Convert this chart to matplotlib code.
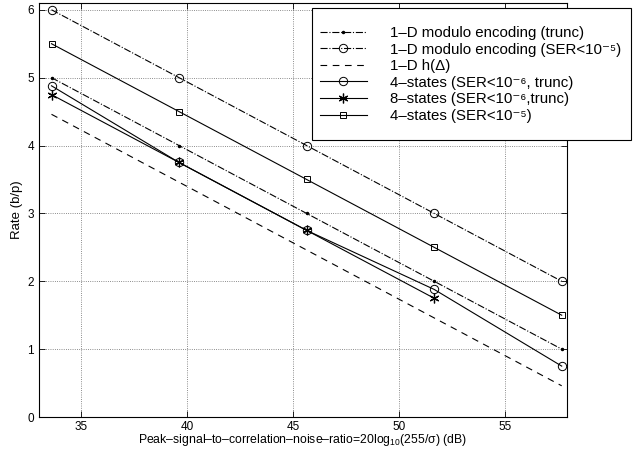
import numpy as np
import matplotlib
matplotlib.use('Agg')
import matplotlib.pyplot as plt
from matplotlib.patches import Rectangle

# x positions: 20log10(255/sigma) for sigma = 16/3 ... 1/3
psnr = [33.59, 39.61, 45.63, 51.65, 57.67]

mod_trunc = [5.0, 4.0, 3.0, 2.0, 1.0]
mod_ser5 = [6.0, 5.0, 4.0, 3.0, 2.0]
h_delta = [4.46, 3.46, 2.46, 1.46, 0.46]
st4_ser6 = [4.88, 3.75, 2.75, 1.88, 0.75]
st8_ser6 = [4.75, 3.75, 2.75, 1.75]
st4_ser5 = [5.5, 4.5, 3.5, 2.5, 1.5]

labels = [
    '1\u2013D modulo encoding (trunc)',
    '1\u2013D modulo encoding (SER<10\u207b\u2075)',
    '1\u2013D h(\u0394)',
    '4\u2013states (SER<10\u207b\u2076, trunc)',
    '8\u2013states (SER<10\u207b\u2076,trunc)',
    '4\u2013states (SER<10\u207b\u2075)',
]

plt.rcParams['font.family'] = ['Liberation Sans', 'DejaVu Sans']
plt.rcParams['mathtext.fontset'] = 'custom'
plt.rcParams['mathtext.rm'] = 'Liberation Sans'
plt.rcParams['mathtext.it'] = 'Liberation Sans'

W, H = 635, 449
fig = plt.figure(figsize=(W / 100, H / 100), dpi=100)
ax = fig.add_axes([39 / W, 1 - 417 / H, 528 / W, 414 / H])

lw = 0.8
ax.plot(psnr, mod_trunc, '-.', color='k', lw=lw, marker='.', ms=3, label=labels[0])
ax.plot(psnr, mod_ser5, '-.', color='k', lw=lw, marker='o', ms=6, mfc='none', mew=0.7, label=labels[1])
ax.plot(psnr, h_delta, '--', color='k', lw=lw, dashes=(6, 5), label=labels[2])
ax.plot(psnr, st4_ser6, '-', color='k', lw=lw, marker='o', ms=6, mfc='none', mew=0.7, label=labels[3])
ax.plot(psnr[:4], st8_ser6, '-', color='k', lw=lw, marker=(6, 2, 0), ms=7, mew=0.9, label=labels[4])
ax.plot(psnr, st4_ser5, '-', color='k', lw=lw, marker='s', ms=5, mfc='none', mew=0.7, label=labels[5])

ax.set_xlim(33.0, 57.92)
ax.set_ylim(0, 6.1)
ax.set_xticks([35, 40, 45, 50, 55])
ax.set_yticks([0, 1, 2, 3, 4, 5, 6])
ax.tick_params(direction='in', top=True, right=True, labelsize=8.5, length=4, width=0.6)
ax.tick_params(axis='x', pad=3)
ax.grid(True, linestyle=':', color='k', lw=0.6, alpha=0.6)
for s in ax.spines.values():
    s.set_linewidth(0.8)

ax.set_xlabel('Peak\u2013signal\u2013to\u2013correlation\u2013noise\u2013ratio=20log$_{10}$(255/\u03c3) (dB)',
              fontsize=8.8, labelpad=-1)
ax.set_ylabel('Rate (b/p)', fontsize=9.5, labelpad=3)

# legend box (MATLAB style, sticks out past the right axis)
box = Rectangle((312 / W, 1 - 140 / H), 319 / W, 132 / H, transform=fig.transFigure,
                facecolor='white', edgecolor='k', lw=0.8, clip_on=False, zorder=4.9)
ax.add_patch(box)

leg = ax.legend(loc='upper left', bbox_to_anchor=(320 / W, 1 - 26 / H),
                bbox_transform=fig.transFigure, fontsize=10.8, numpoints=1,
                frameon=False, handlelength=3.1, handletextpad=1.6,
                borderpad=0, labelspacing=0.17, borderaxespad=0)

fig.savefig('out.png', dpi=100)
